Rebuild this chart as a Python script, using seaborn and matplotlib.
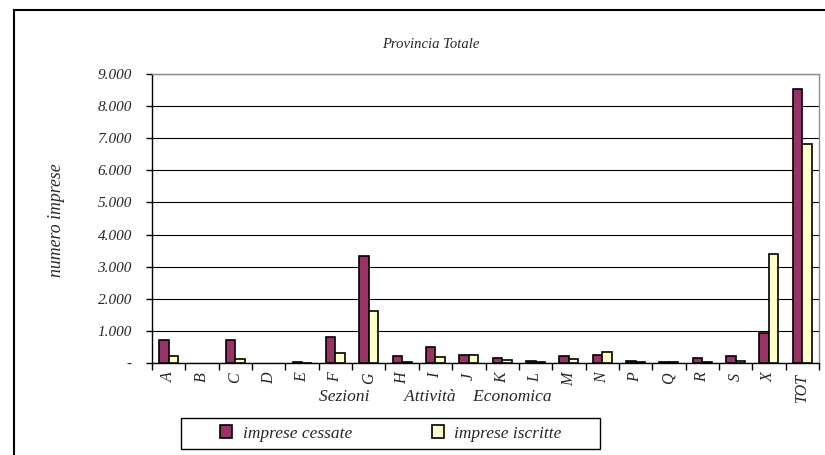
import numpy as np
import pandas as pd
import matplotlib
matplotlib.use("Agg")
import matplotlib.pyplot as plt
from matplotlib.patches import Rectangle, Patch
import seaborn as sns

# data
sezioni = ["A", "B", "C", "D", "E", "F", "G", "H", "I", "J", "K", "L",
           "M", "N", "P", "Q", "R", "S", "X", "TOT"]
cessate = [715, 0, 730, 0, 30, 820, 3335, 230, 500, 260, 165, 55,
           215, 250, 60, 35, 145, 230, 940, 8535]
iscritte = [225, 0, 125, 0, 5, 325, 1630, 40, 195, 260, 100, 40,
            130, 350, 30, 20, 45, 70, 3400, 6830]
serie = ["imprese cessate", "imprese iscritte"]
colori = ["#993366", "#FFFFCC"]
y_ticks = list(range(0, 10000, 1000))

sns.set_style("white")
plt.rcParams['font.family'] = ['Liberation Serif', 'DejaVu Serif']
plt.rcParams['font.style'] = 'italic'

df = pd.DataFrame({
    "sezione": sezioni * 2,
    "valore": cessate + iscritte,
    "serie": [serie[0]] * len(sezioni) + [serie[1]] * len(sezioni),
})

fig = plt.figure(figsize=(8.25, 4.55), dpi=100)
ax = fig.add_axes([152 / 825, 92 / 455, 667 / 825, 289 / 455])

sns.barplot(data=df, x="sezione", y="valore", hue="serie", hue_order=serie,
            palette=colori, width=0.57, edgecolor="black", linewidth=1.2,
            saturation=1, legend=False, ax=ax, zorder=3)

# empty sections show no bar at all
for p in ax.patches:
    if p.get_height() == 0:
        p.set_linewidth(0)

ax.set_xlim(-0.5, len(sezioni) - 0.5)
ax.set_ylim(0, 9000)
ax.set_yticks(y_ticks)
ax.set_yticklabels(["-"] + [f"{v:,}".replace(",", ".") for v in y_ticks[1:]],
                   fontsize=11)
ax.yaxis.grid(True, color="black", linewidth=0.8, zorder=0)
ax.set_axisbelow(True)

ax.set_xticks(range(len(sezioni)))
ax.set_xticklabels(sezioni, rotation=90, fontsize=11.5)
ax.set_xticks(np.arange(-0.5, len(sezioni)), minor=True)
ax.tick_params(axis="x", which="major", length=0, pad=7)
ax.tick_params(axis="x", which="minor", length=5, width=1, color="black",
               direction="out", bottom=True)
ax.tick_params(axis="y", length=4, width=1, color="black", direction="out",
               left=True, pad=10.5)

for side in ["left", "bottom"]:
    ax.spines[side].set_color("black")
    ax.spines[side].set_linewidth(1)
for side in ["top", "right"]:
    ax.spines[side].set_color("#8c8c8c")
    ax.spines[side].set_linewidth(1)

ax.set_xlabel("Sezioni        Attività    Economica", fontsize=12.5)
ax.xaxis.set_label_coords(0.425, -0.09)
ax.set_ylabel("")

fig.text(431 / 825, 410 / 455, "Provincia Totale", fontsize=10.5,
         ha="center", va="center")
fig.text(56.5 / 825, 235 / 455, "numero imprese", fontsize=12.8,
         rotation=90, ha="center", va="center")

# outer frame
fig.patches.append(Rectangle((14.5 / 825, -0.2), 1.2, 1.2 - 10 / 455,
                             transform=fig.transFigure, fill=False,
                             edgecolor="black", linewidth=1.5))

# legend box
fig.patches.append(Rectangle((181 / 825, 6 / 455), 419 / 825, 31 / 455,
                             transform=fig.transFigure, fill=False,
                             edgecolor="black", linewidth=1))
handles = [Patch(facecolor=c, edgecolor="black", linewidth=1.2) for c in colori]
fig.legend(handles, serie, loc="center", bbox_to_anchor=(391 / 825, 21.5 / 455),
           ncol=2, frameon=False, fontsize=12.5, handlelength=0.7,
           handleheight=0.7, handletextpad=0.6, columnspacing=4.6)

fig.savefig("out.png", dpi=100)
